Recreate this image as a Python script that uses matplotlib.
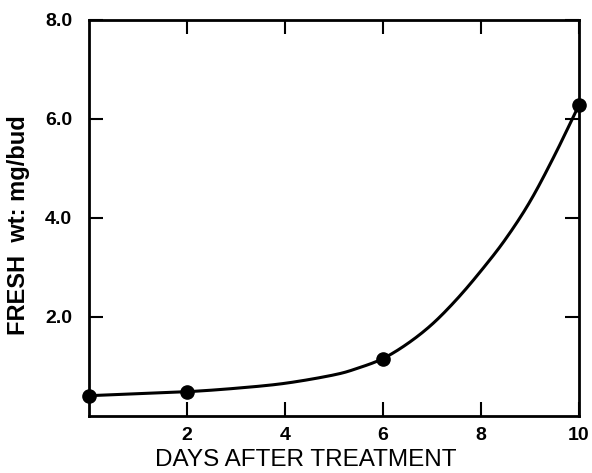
import numpy as np
import matplotlib
matplotlib.use("Agg")
import matplotlib.pyplot as plt

plt.rcParams['font.family'] = ['Liberation Sans', 'DejaVu Sans']

# measured points
days = [0, 2, 6, 10]
fresh_wt = [0.41, 0.49, 1.16, 6.28]

# smooth curve
curve_x = [0, 1, 2, 3, 4, 5, 5.5, 6, 6.5, 7, 7.5, 8, 8.5, 9, 9.5, 10]
curve_y = [0.41, 0.45, 0.49, 0.56, 0.66, 0.83, 0.97, 1.16, 1.46, 1.85, 2.35, 2.93, 3.57, 4.33, 5.26, 6.28]

xticks = [2, 4, 6, 8, 10]
xtick_labels = ['2', '4', '6', '8', '10']
yticks = [2, 4, 6, 8]
ytick_labels = ['2.0', '4.0', '6.0', '8.0']


def catmull_rom(x, y, n=20):
    # draw a smooth line through the read points
    x = np.asarray(x, float)
    y = np.asarray(y, float)
    px = np.concatenate([[2 * x[0] - x[1]], x, [2 * x[-1] - x[-2]]])
    py = np.concatenate([[2 * y[0] - y[1]], y, [2 * y[-1] - y[-2]]])
    xs, ys = [], []
    t = np.linspace(0, 1, n, endpoint=False)
    for i in range(1, len(px) - 2):
        for p, out in ((px, xs), (py, ys)):
            p0, p1, p2, p3 = p[i - 1], p[i], p[i + 1], p[i + 2]
            out.extend(0.5 * (2 * p1 + (-p0 + p2) * t
                              + (2 * p0 - 5 * p1 + 4 * p2 - p3) * t**2
                              + (-p0 + 3 * p1 - 3 * p2 + p3) * t**3))
    xs.append(x[-1])
    ys.append(y[-1])
    return xs, ys


fig = plt.figure(figsize=(5.92, 4.73), dpi=100)
ax = fig.add_axes([0.150, 0.1205, 0.828, 0.8375])

sx, sy = catmull_rom(curve_x, curve_y)
ax.plot(sx, sy, color='black', lw=2.2, clip_on=False)
ax.plot(days, fresh_wt, 'o', color='black', ms=9.5, clip_on=False, zorder=5)

ax.set_xlim(0, 10)
ax.set_ylim(0, 8)
ax.set_xticks(xticks)
ax.set_xticklabels(xtick_labels)
ax.set_yticks(yticks)
ax.set_yticklabels(ytick_labels)

ax.tick_params(direction='in', length=10, width=1.5, labelsize=14,
               top=True, right=True)
ax.tick_params(axis='x', pad=8)
ax.tick_params(axis='y', pad=12)
for lbl in ax.get_xticklabels() + ax.get_yticklabels():
    lbl.set_fontweight('bold')
for s in ax.spines.values():
    s.set_linewidth(2)

fig.text(0.517, 0.004, 'DAYS AFTER TREATMENT', fontsize=17.5, ha='center', va='bottom')
fig.text(0.031, 0.523, 'FRESH  wt: mg/bud', fontsize=17, fontweight='bold',
         rotation=90, ha='center', va='center')

fig.savefig('out.png', dpi=100)
